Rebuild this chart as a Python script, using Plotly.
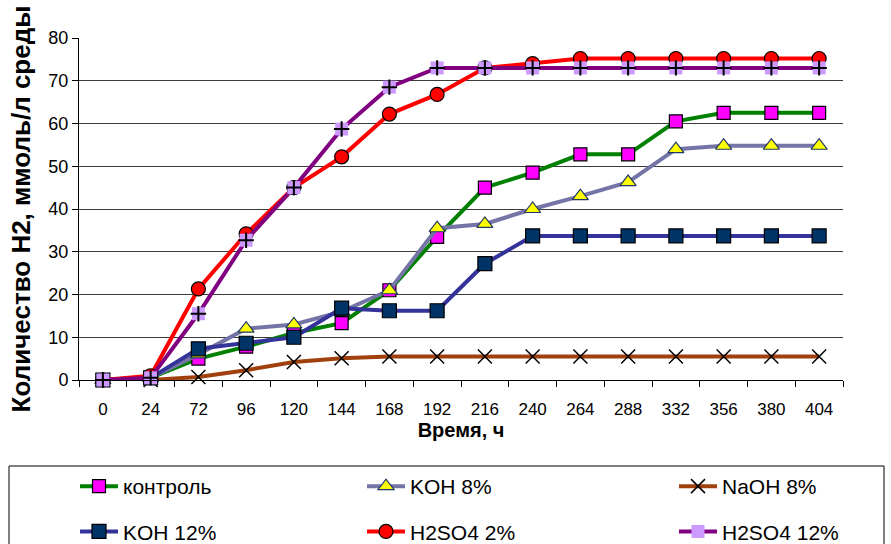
import plotly.graph_objects as go

hours = ["0", "24", "72", "96", "120", "144", "168", "192", "216", "240",
         "264", "288", "332", "356", "380", "404"]

control = [0, 0.5, 5, 7.8, 11, 13.3, 21, 33.5, 45, 48.5, 52.8, 52.8, 60.5, 62.5, 62.5, 62.5]
koh8 = [0, 0.5, 6, 12, 13, 16, 21, 35.5, 36.5, 40, 43, 46.3, 54, 54.8, 54.8, 54.8]
naoh8 = [0, 0, 0.7, 2.3, 4.2, 5.1, 5.5, 5.5, 5.5, 5.5, 5.5, 5.5, 5.5, 5.5, 5.5, 5.5]
koh12 = [0, 0.5, 7.3, 8.6, 10, 16.8, 16.2, 16.2, 27.2, 33.7, 33.7, 33.7, 33.7, 33.7, 33.7, 33.7]
h2so4_2 = [0, 1, 21.3, 34.2, 45, 52.2, 62.2, 66.8, 73, 74, 75.2, 75.2, 75.2, 75.2, 75.2, 75.2]
h2so4_12 = [0, 0.5, 15.5, 32.7, 45, 58.7, 68.5, 73, 73, 73, 73, 73, 73, 73, 73, 73]

SANS = "Liberation Sans, Arial, sans-serif"
W, H = 891, 544
ML, MR, MT, MB = 79, 48, 38, 164
PW, PH = W - ML - MR, H - MT - MB


def px_x(px):
    return (px - ML) / PW


def px_y(py):
    return (H - MB - py) / PH


fig = go.Figure()

series = [
    ("контроль", control, "#008000", "legend",
     dict(symbol="square", color="#FF00FF", size=13, line=dict(color="black", width=1.2))),
    ("KOH 8%", koh8, "#7474A6", "legend2",
     dict(symbol="triangle-up", color="#FFFF00", size=14, line=dict(color="#1F3864", width=1.2))),
    ("NaOH 8%", naoh8, "#A0410D", "legend3",
     dict(symbol="x-thin", color="black", size=14, line=dict(color="black", width=1.5))),
    ("KOH 12%", koh12, "#333399", "legend",
     dict(symbol="square", color="#003366", size=14, line=dict(color="black", width=1.2))),
    ("H2SO4 2%", h2so4_2, "#FF0000", "legend2",
     dict(symbol="circle", color="#FF0000", size=14, line=dict(color="black", width=1.2))),
    ("H2SO4 12%", h2so4_12, "#800080", "legend3",
     dict(symbol="square", color="#CC99FF", size=13, line=dict(color="#CC99FF", width=0))),
]

for name, vals, lc, lg, mk in series:
    fig.add_trace(go.Scatter(
        x=hours, y=vals, name=name, mode="lines+markers",
        line=dict(color=lc, width=4), marker=mk, cliponaxis=False,
        legendgroup=name, legend=lg,
    ))

fig.add_trace(go.Scatter(
    x=hours, y=h2so4_12, mode="markers", showlegend=False, legendgroup="H2SO4 12%",
    legend="legend3",
    marker=dict(symbol="cross-thin", size=11, color="black", line=dict(color="black", width=2)),
    cliponaxis=False, hoverinfo="skip",
))


def legend_at(left_px):
    return dict(
        x=px_x(left_px), xanchor="left", y=px_y(466), yanchor="top",
        orientation="v", font=dict(family=SANS, size=21, color="black"),
        borderwidth=0, bgcolor="rgba(0,0,0,0)", itemwidth=38,
        tracegroupgap=15, traceorder="grouped",
    )


fig.update_layout(
    width=W, height=H,
    margin=dict(l=ML, r=MR, t=MT, b=MB, autoexpand=False),
    paper_bgcolor="white", plot_bgcolor="white",
    showlegend=True,
    legend=legend_at(75),
    legend2=legend_at(362),
    legend3=legend_at(674),
    shapes=[dict(
        type="rect", xref="paper", yref="paper",
        x0=px_x(9), x1=px_x(884), y0=px_y(466), y1=px_y(580),
        line=dict(color="black", width=1), fillcolor="rgba(0,0,0,0)", layer="below",
    )],
    xaxis=dict(
        type="category", range=[-0.5, len(hours) - 0.5],
        tickson="boundaries", ticks="outside", ticklen=6,
        tickcolor="black", showline=True, linecolor="black", linewidth=1,
        showgrid=False, tickfont=dict(family=SANS, size=17, color="black"),
        ticklabelstandoff=14, automargin=False, tickangle=0,
        title=dict(text="<b>Время, ч</b>", font=dict(family=SANS, size=20, color="black"),
                   standoff=3),
    ),
    yaxis=dict(
        range=[0, 80], dtick=10, ticks="outside", ticklen=6, tickcolor="black",
        showline=True, linecolor="black", linewidth=1, automargin=False,
        showgrid=True, gridcolor="#3a3a3a", gridwidth=1, zeroline=False,
        tickfont=dict(family=SANS, size=18, color="black"),
        title=dict(text="<b>Количество Н2, ммоль/л среды</b>",
                   font=dict(family=SANS, size=26, color="black"), standoff=10),
    ),
)

fig.write_html("out.html")
